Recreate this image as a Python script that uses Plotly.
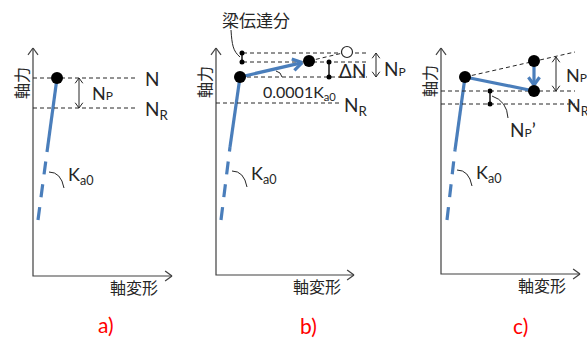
import math
import plotly.graph_objects as go

W, H = 587, 338
BLUE = "#4a7ebb"
INK = "#262626"
RED = "#ff0000"
FONT = "Lato, 'Noto Sans CJK JP', sans-serif"

# ---- panel frames: axis corner on the page, axis lengths (local units = px, force upward)
origin_x = [33, 216, 441]
origin_y = [276, 275, 274]
axis_len_x = [139, 138, 139]
axis_len_y = [228, 227, 226]
panel_tags = ["a)", "b)", "c)"]
tag_x = [73, 92, 79]
tag_y = [-48, -50, -51]

# ---- elastic branch (stiffness Ka0): peak, end of solid part, end of dashed part
peak_pt = [(24, 198), (24, 198), (24, 197)]
solid_end = [(14, 124), (14, 128), (14, 124)]
dash_end = [(5, 56), (5, 55), (6, 54)]

# ---- panel a: axial force levels
a_N = 198
a_NR = 168
a_line_end = 105
a_np_x = 46

# ---- panel b: beam transfer increment
b_levels = [222, 213, 198]
b_level_x = [27, 151]
b_NR = 172
b_NR_end = 124
b_dot2 = (93, 214)
b_open = (131, 223)
b_dN_x = 113
b_np_x = 160
b_bracket_x = 26

# ---- panel c: unloading to the reduced level
c_dot_hi = (93, 213)
c_dot_lo = (93, 183)
c_ref_end = (134, 222)
c_levels = [183, 170]
c_level_end = 134
c_np_x = 115
c_np_top = 217
c_npp_x = 49

fig = go.Figure()
shapes = []
annotations = []


def ax_names(k):
    return ("x", "y") if k == 0 else (f"x{k+1}", f"y{k+1}")


def line(k, xs, ys, color=INK, width=1.0, dash=None):
    xa, ya = ax_names(k)
    fig.add_trace(go.Scatter(
        x=list(xs), y=list(ys), mode="lines", xaxis=xa, yaxis=ya,
        line=dict(color=color, width=width, dash=dash),
        hoverinfo="skip", showlegend=False))


def dots(k, pts, size, fill="black", edge="black", edge_w=0):
    xa, ya = ax_names(k)
    fig.add_trace(go.Scatter(
        x=[p[0] for p in pts], y=[p[1] for p in pts], mode="markers",
        xaxis=xa, yaxis=ya,
        marker=dict(size=size, color=fill, line=dict(color=edge, width=edge_w)),
        hoverinfo="skip", showlegend=False))


def chevron(k, tip, frm, length, half_deg, color=INK, width=1.0):
    dx, dy = tip[0] - frm[0], tip[1] - frm[1]
    n = math.hypot(dx, dy)
    ux, uy = dx / n, dy / n
    a = math.radians(half_deg)
    xs, ys = [], []
    for s in (1, -1):
        c, sn = math.cos(s * a), math.sin(s * a)
        rx, ry = ux * c - uy * sn, ux * sn + uy * c
        xs += [tip[0] - length * rx, tip[0], None]
        ys += [tip[1] - length * ry, tip[1], None]
    line(k, xs, ys, color, width)


def double_arrow(k, x, y_top, y_bot):
    line(k, [x, x], [y_top, y_bot], INK, 1.0)
    chevron(k, (x, y_top), (x, y_bot), 6.5, 36)
    chevron(k, (x, y_bot), (x, y_top), 6.5, 36)


def i_bar(k, x, y_top, y_bot):
    line(k, [x, x], [y_top, y_bot], INK, 1.6)
    dots(k, [(x, y_top), (x, y_bot)], 5)


def curve(k, path, width=1.0):
    xa, ya = ax_names(k)
    shapes.append(dict(type="path", path=path, xref=xa, yref=ya,
                       line=dict(color=INK, width=width)))


def label(k, x, y, text, size=17, xanchor="left", color=INK, angle=0):
    xa, ya = ax_names(k)
    annotations.append(dict(
        x=x, y=y, xref=xa, yref=ya, text=text, showarrow=False,
        xanchor=xanchor, yanchor="middle", textangle=angle,
        font=dict(family=FONT, size=size, color=color)))


NP = "N<span style='font-size:12px'>P</span>"
NR = "N<sub>R</sub>"
KA0 = "K<sub>a0</sub>"

# ---- common parts of every panel: axes, elastic branch, labels
for k in range(3):
    lx, ly = axis_len_x[k], axis_len_y[k]
    line(k, [0, 0, lx], [ly, 0, 0], "#404040", 1.2)
    chevron(k, (0, ly), (0, 0), 8.5, 36, "#404040", 1.2)
    chevron(k, (lx, 0), (0, 0), 8.5, 36, "#404040", 1.2)

    p, s, d = peak_pt[k], solid_end[k], dash_end[k]
    line(k, [d[0], s[0]], [d[1], s[1]], BLUE, 3.2, "13px,10px")
    line(k, [s[0], p[0]], [s[1], p[1]], BLUE, 3.2)

    curve(k, "M 16,104 Q 28,104 31,88")
    label(k, 33, 101, KA0, 18)
    label(k, -12, 193, "軸力", 16, "center", angle=-90)
    label(k, 101, -11, "軸変形", 16, "center")
    label(k, tag_x[k], tag_y[k], panel_tags[k], 21, "center", RED)

# ---- panel a
k = 0
line(k, [0, a_line_end], [a_N, a_N], INK, 1.0, "4px,3px")
line(k, [0, a_line_end], [a_NR, a_NR], INK, 1.0, "4px,3px")
double_arrow(k, a_np_x, a_N, a_NR)
label(k, 57, 183, NP, 18)
label(k, 110, a_N, "N", 19)
label(k, 110, a_NR - 2, NR, 19)
dots(k, [peak_pt[k]], 12)

# ---- panel b
k = 1
for i, lv in enumerate(b_levels):
    x0 = b_level_x[0] if i < 2 else peak_pt[k][0]
    line(k, [x0, b_level_x[1]], [lv, lv], INK, 1.0, "4px,3px")
line(k, [0, b_NR_end], [b_NR, b_NR], INK, 1.0, "4px,3px")
label(k, 126, b_NR - 3, NR, 19)
line(k, [b_dot2[0], b_open[0]], [b_dot2[1], b_open[1]], INK, 1.0, "4px,3px")
dots(k, [b_open], 11, "white", INK, 1.2)
# branch with stiffness 0.0001Ka0 ending in an arrow
p0, p1 = peak_pt[k], b_dot2
dx, dy = p1[0] - p0[0], p1[1] - p0[1]
n = math.hypot(dx, dy)
tip = (p1[0] - 7 * dx / n, p1[1] - 7 * dy / n)
line(k, [p0[0], tip[0]], [p0[1], tip[1]], BLUE, 3.2)
chevron(k, tip, p0, 11, 32, BLUE, 3.2)
curve(k, "M 60,204 Q 65,203 66,198")
label(k, 45, 183, "0.0001" + KA0, 16)
i_bar(k, b_dN_x, b_levels[1], b_levels[2])
label(k, 121, 205, "ΔN", 19)
double_arrow(k, b_np_x, b_levels[0], b_levels[2])
label(k, 166, 207, NP, 19)
i_bar(k, b_bracket_x, b_levels[0], b_levels[1])
curve(k, "M 15,245 C 16,230 17,224 24,218")
label(k, 40, 255, "梁伝達分", 17, "center")
dots(k, [peak_pt[k], b_dot2], 12)

# ---- panel c
k = 2
line(k, [peak_pt[k][0], c_ref_end[0]], [peak_pt[k][1], c_ref_end[1]], INK, 1.0, "4px,3px")
for lv in c_levels:
    line(k, [0, c_level_end], [lv, lv], INK, 1.0, "4px,3px")
label(k, 124, c_levels[1] - 2, NR, 18)
line(k, [peak_pt[k][0], c_dot_lo[0]], [peak_pt[k][1], c_dot_lo[1]], BLUE, 3.2)
tip_c = (c_dot_hi[0], c_dot_lo[1] + 6)
line(k, [c_dot_hi[0], tip_c[0]], [c_dot_hi[1], tip_c[1]], BLUE, 3.2)
chevron(k, tip_c, c_dot_hi, 9.5, 36, BLUE, 3.2)
double_arrow(k, c_np_x, c_np_top, c_levels[0])
label(k, 123, 199, NP, 18)
i_bar(k, c_npp_x, c_levels[0], c_levels[1])
curve(k, "M 51,178 Q 66,173 67,156")
label(k, 67, 145, NP + "’", 19)
dots(k, [peak_pt[k], c_dot_hi, c_dot_lo], 12)

layout = dict(
    width=W, height=H, margin=dict(l=0, r=0, t=0, b=0),
    paper_bgcolor="white", plot_bgcolor="white",
    shapes=shapes, annotations=annotations, showlegend=False,
)
for k in range(3):
    xa, ya = ax_names(k)
    xkey = "xaxis" if k == 0 else f"xaxis{k+1}"
    ykey = "yaxis" if k == 0 else f"yaxis{k+1}"
    xd = dict(range=[-origin_x[k], W - origin_x[k]], visible=False,
              fixedrange=True, domain=[0, 1], anchor=ya)
    yd = dict(range=[-(H - origin_y[k]), origin_y[k]], visible=False,
              fixedrange=True, domain=[0, 1], anchor=xa)
    if k > 0:
        xd["overlaying"] = "x"
        yd["overlaying"] = "y"
    layout[xkey] = xd
    layout[ykey] = yd

fig.update_layout(**layout)
fig.write_html("out.html")
